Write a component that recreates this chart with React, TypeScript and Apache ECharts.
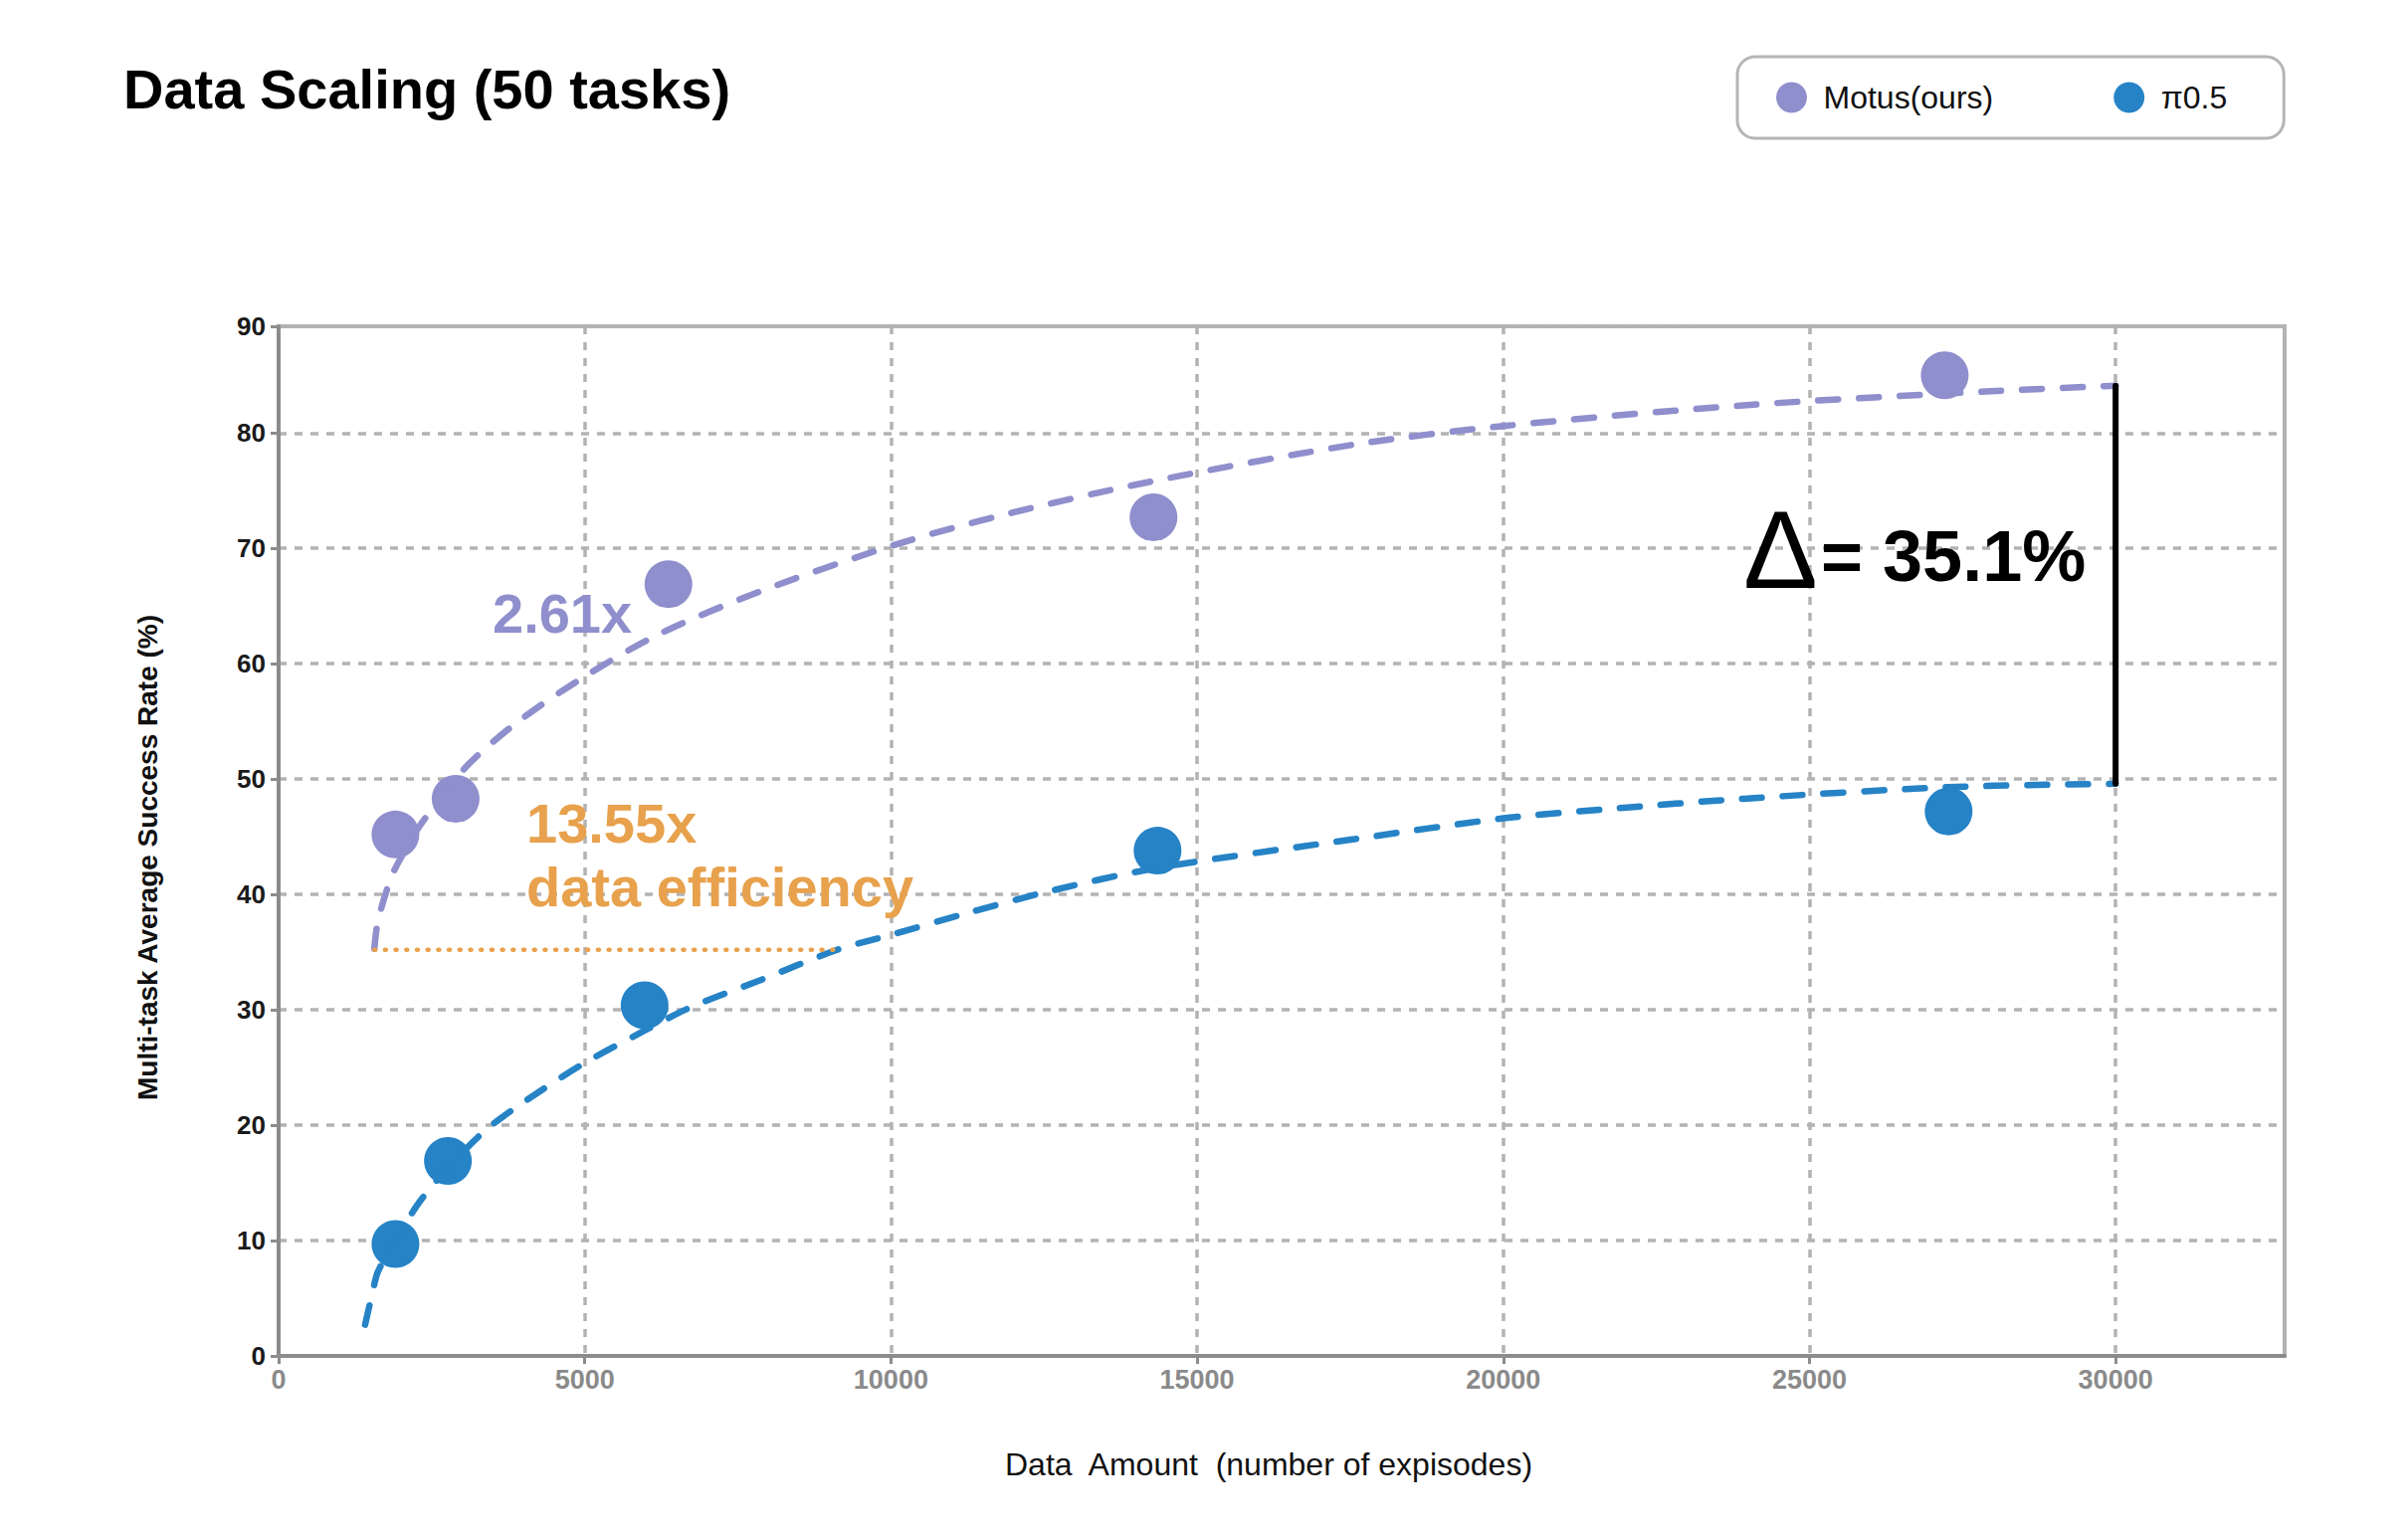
import { useEffect, useRef } from 'react';
import * as echarts from 'echarts';

// measured points
const motusX = [1908, 2891, 6366, 14288, 27209];
const motusY = [45.2, 48.3, 66.9, 72.7, 85.0];
const piX = [1908, 2765, 5977, 14354, 27273];
const piY = [9.7, 16.9, 30.4, 43.8, 47.2];

// dashed trend curves
const motusFitX = [1563, 1622, 1832, 2000, 2311, 3050, 3891, 5000, 6225, 7881, 10000, 11755, 14255, 17566, 20000, 23924, 27887, 30000];
const motusFitY = [35.3, 37.7, 41.4, 43.2, 46.0, 51.0, 54.9, 58.9, 62.6, 66.3, 70.2, 72.8, 75.8, 79.0, 80.6, 82.4, 83.6, 84.1];
const piFitX = [1412, 1538, 1622, 1908, 2294, 2765, 3387, 4059, 5000, 5977, 6722, 7881, 9123, 10000, 11192, 12599, 14354, 17566, 20000, 21705, 23924, 27249, 30000];
const piFitY = [2.7, 5.6, 7.3, 10.0, 13.3, 16.3, 19.6, 22.2, 25.4, 28.2, 30.2, 32.6, 35.2, 36.5, 38.3, 40.3, 42.3, 44.8, 46.6, 47.4, 48.3, 49.3, 49.6];

// annotation lines
const gapX = [30000, 30000];
const gapY = [49.6, 84.1];
const effX = [1563, 9110];
const effY = [35.2, 35.2];

const xMax = 32760;
const yMax = 89.25;

const MOTUS = '#8f8fcd';
const PI = '#2683c6';
const ORANGE = '#e8a14c';
const FONT = '"Liberation Sans", Arial, sans-serif';

const zip = (xs: number[], ys: number[]) => xs.map((x, i) => [x, ys[i]]);

const fitStyle = (color: string) => ({
  color,
  width: 6.5,
  type: [20, 21],
  cap: 'round' as const,
});

const label = (text: string, x: number, y: number, fill: string, font: string, extra: any = {}) => ({
  type: 'text',
  z: 10,
  ...extra,
  style: {
    text, x, y, fill, font,
    align: 'left', verticalAlign: 'middle', textAlign: 'left', textVerticalAlign: 'middle',
  },
});

const option: any = {
  animation: false,
  backgroundColor: '#fff',
  textStyle: { fontFamily: FONT },
  title: {
    text: 'Data Scaling (50 tasks)',
    left: 124,
    top: 61,
    padding: 0,
    textStyle: { fontSize: 56, fontWeight: 'bold', color: '#000', fontFamily: FONT },
  },
  legend: {
    data: ['Motus(ours)', 'π0.5'],
    left: 1746,
    top: 57,
    padding: [25, 57, 25, 39],
    itemWidth: 54,
    itemHeight: 31,
    itemGap: 121,
    icon: 'circle',
    borderColor: '#b5b5b5',
    borderWidth: 3,
    borderRadius: 18,
    textStyle: { fontSize: 32, color: '#111', fontFamily: FONT },
  },
  grid: {
    left: 280,
    right: 124,
    top: 328,
    bottom: 177,
    show: true,
    borderColor: '#b3b3b3',
    borderWidth: 4,
  },
  xAxis: {
    type: 'value',
    min: 0,
    max: xMax,
    interval: 5000,
    name: 'Data  Amount  (number of expisodes)',
    nameLocation: 'middle',
    nameGap: 93,
    nameTextStyle: { fontSize: 32, color: '#111', fontFamily: FONT, padding: [0, 26, 0, 0] },
    axisLine: { show: true, lineStyle: { color: '#8c8c8c', width: 4 } },
    axisTick: { show: true, length: 8, lineStyle: { color: '#8c8c8c', width: 3 } },
    axisLabel: {
      margin: 10,
      fontSize: 27,
      fontWeight: 'bold',
      color: '#8a8a8a',
      showMaxLabel: false,
      fontFamily: FONT,
      formatter: (v: number) => String(v),
    },
    splitLine: { show: true, lineStyle: { color: '#b3b3b3', width: 3.5, type: [8, 8] } },
  },
  yAxis: {
    type: 'value',
    min: 0,
    max: yMax,
    interval: 10,
    axisLine: { show: true, lineStyle: { color: '#8c8c8c', width: 4 } },
    axisTick: { show: true, length: 8, lineStyle: { color: '#8c8c8c', width: 3 } },
    axisLabel: {
      margin: 13,
      fontSize: 26,
      fontWeight: 'bold',
      color: '#1a1a1a',
      fontFamily: FONT,
      formatter: (v: number) => String(Math.round(v / 10) * 10),
    },
    splitLine: { show: true, lineStyle: { color: '#b3b3b3', width: 3.5, type: [8, 8] } },
  },
  series: [
    {
      name: 'Motus(ours)',
      type: 'scatter',
      data: zip(motusX, motusY),
      symbolSize: 48,
      itemStyle: { color: MOTUS, opacity: 1 },
      z: 2,
    },
    {
      name: 'π0.5',
      type: 'scatter',
      data: zip(piX, piY),
      symbolSize: 48,
      itemStyle: { color: PI, opacity: 1 },
      z: 2,
    },
    {
      name: 'Motus fit',
      type: 'line',
      data: zip(motusFitX, motusFitY),
      smooth: 0.3,
      symbol: 'none',
      lineStyle: fitStyle(MOTUS),
      z: 3,
    },
    {
      name: 'π0.5 fit',
      type: 'line',
      data: zip(piFitX, piFitY),
      smooth: 0.3,
      symbol: 'none',
      lineStyle: fitStyle(PI),
      z: 3,
    },
    {
      name: 'gap',
      type: 'line',
      data: zip(gapX, gapY),
      symbol: 'none',
      lineStyle: { color: '#000', width: 6, cap: 'round' },
      z: 4,
    },
    {
      name: 'efficiency',
      type: 'line',
      data: zip(effX, effY),
      symbol: 'none',
      lineStyle: { color: ORANGE, width: 4.5, type: [1, 9.7], cap: 'round' },
      z: 4,
    },
  ],
  graphic: [
    label('2.61x', 495, 616, MOTUS, `bold 56px ${FONT}`),
    label('13.55x', 529, 827, ORANGE, `bold 56px ${FONT}`),
    label('data efficiency', 529, 891, ORANGE, `bold 56px ${FONT}`),
    label('Δ', 1752, 552, '#000', `112px ${FONT}`),
    label('= 35.1%', 1830, 559, '#000', `bold 72px ${FONT}`),
    {
      type: 'text',
      z: 10,
      x: 148,
      y: 862,
      rotation: Math.PI / 2,
      style: {
        text: 'Multi-task Average Success Rate (%)',
        fill: '#111',
        font: `bold 28px ${FONT}`,
        align: 'center', verticalAlign: 'middle', textAlign: 'center', textVerticalAlign: 'middle',
      },
    },
  ],
};

export default function App() {
  const chartRef = useRef<HTMLDivElement>(null);

  useEffect(() => {
    if (!chartRef.current) return;
    const chart = echarts.init(chartRef.current, null, { renderer: 'svg' });
    chart.setOption(option);
    return () => chart.dispose();
  }, []);

  return (
    <div
      ref={chartRef}
      style={{ position: 'absolute', left: 0, top: 0, width: 2420, height: 1540, background: '#fff' }}
    />
  );
}
